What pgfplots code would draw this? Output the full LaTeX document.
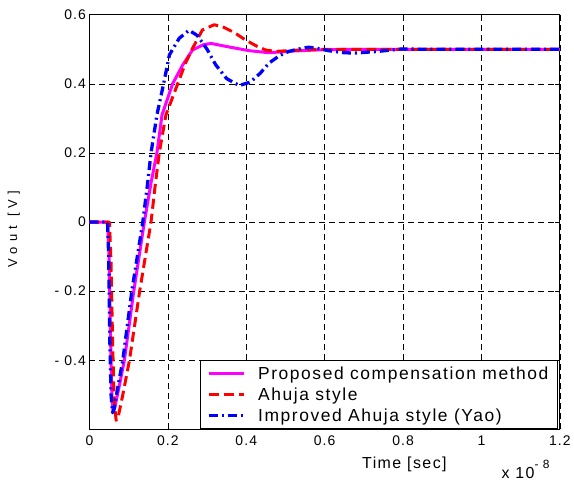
\documentclass[border=0pt]{standalone}
\usepackage{fontspec}
\setmainfont{Liberation Sans}
\newfontfamily\legfont[LetterSpace=9]{Liberation Sans}
\newfontfamily\tickfont[LetterSpace=8]{Liberation Sans}
\newfontfamily\labfont[LetterSpace=9]{Liberation Sans}
\newfontfamily\yfont[LetterSpace=40]{Liberation Sans}
\usepackage{pgfplots}
\pgfplotsset{compat=1.18}
\usetikzlibrary{calc}
\definecolor{mag}{RGB}{255,0,255}

\begin{document}
\begin{tikzpicture}
\begin{axis}[
    name=ax,
    scale only axis,
    width=472bp, height=416bp,
    xmin=0, xmax=1.2, ymin=-0.6, ymax=0.6,
    xtick={0,0.2,0.4,0.6,0.8,1,1.2},
    xticklabels={0,0.2,0.4,0.6,0.8,1,1.2},
    ytick={-0.4,-0.2,0,0.2,0.4,0.6},
    yticklabels={-\ 0.4,-\ 0.2,0,0.2,0.4,0.6},
    tick pos=both,
    tick align=inside,
    major tick length=5bp,
    tick style={black, line width=0.6bp},
    ticklabel style={font=\fontsize{14bp}{16bp}\tickfont},
    xticklabel style={yshift=-3bp},
    grid=major,
    major grid style={black, line width=0.6bp, dash pattern=on 6bp off 4bp},
    axis line style={line width=0.9bp},
    legend style={at={(1,0)}, anchor=south east, xshift=-2bp, draw=black,
        line width=0.9bp, font=\fontsize{17.5bp}{20bp}\legfont,
        inner xsep=7bp, inner ysep=4bp, row sep=3bp, column sep=11bp,
        cells={anchor=west}},
    legend image code/.code={\draw[#1] (0bp,0bp) -- (35bp,0bp);},
    legend cell align=left,
]
\addplot[mag, line width=3bp, line join=round] coordinates {
(0,0) (0.046,0) (0.050,-0.10) (0.054,-0.35) (0.057,-0.50) (0.060,-0.548)
(0.064,-0.54) (0.075,-0.48) (0.089,-0.40) (0.113,-0.20) (0.140,0)
(0.158,0.12) (0.172,0.20) (0.185,0.31) (0.212,0.40) (0.238,0.455)
(0.263,0.498) (0.29,0.513) (0.31,0.517) (0.35,0.508) (0.407,0.496)
(0.458,0.490) (0.52,0.495) (0.6,0.499) (0.7,0.5) (1.2,0.5)
};
\addplot[red, line width=3bp, line join=round, dash pattern=on 10bp off 5bp] coordinates {
(0,0) (0.051,0) (0.055,-0.12) (0.059,-0.35) (0.063,-0.52) (0.068,-0.574)
(0.073,-0.565) (0.085,-0.50) (0.102,-0.40) (0.128,-0.20) (0.157,0.0)
(0.167,0.10) (0.178,0.20) (0.195,0.31) (0.225,0.40) (0.245,0.46)
(0.263,0.503) (0.288,0.556) (0.318,0.571) (0.34,0.565) (0.37,0.548)
(0.398,0.527) (0.425,0.51) (0.449,0.498) (0.475,0.494) (0.51,0.496)
(0.56,0.5) (1.2,0.5)
};
\addplot[blue, line width=3.3bp, line join=round, dash pattern=on 9bp off 4bp on 2bp off 4bp] coordinates {
(0,0) (0.046,0) (0.049,-0.10) (0.052,-0.35) (0.055,-0.50) (0.059,-0.552)
(0.063,-0.54) (0.072,-0.48) (0.085,-0.40) (0.108,-0.20) (0.136,0)
(0.147,0.10) (0.157,0.20) (0.172,0.31) (0.189,0.40) (0.204,0.484)
(0.229,0.532) (0.254,0.555) (0.275,0.54) (0.30,0.50) (0.322,0.455)
(0.35,0.415) (0.382,0.395) (0.41,0.405) (0.435,0.43) (0.458,0.460)
(0.485,0.482) (0.509,0.494) (0.543,0.503) (0.559,0.506) (0.58,0.503)
(0.610,0.496) (0.65,0.49) (0.678,0.489) (0.737,0.494) (0.797,0.501)
(0.85,0.5) (1.2,0.5)
};
\legend{Proposed compensation method,Ahuja style,Improved Ahuja style (Yao)}
\end{axis}
\node[font=\fontsize{16bp}{18bp}\labfont] at ($(ax.south west)+(316bp,-35bp)$) {Time [sec]};
\node[font=\fontsize{16bp}{18bp}\labfont, anchor=base west] at ($(ax.south west)+(410bp,-49bp)$) {x 10\raisebox{10bp}{\fontsize{12bp}{14bp}\labfont - 8}};
\node[font=\fontsize{13bp}{15bp}\yfont, rotate=90] at ($(ax.west)+(-76bp,-7bp)$) {Vout [V]};
\path[use as bounding box] ($(ax.south west)+(-89.8bp,-56bp)$) rectangle ($(ax.north east)+(12.3bp,14.8bp)$);
\end{tikzpicture}
\end{document}
